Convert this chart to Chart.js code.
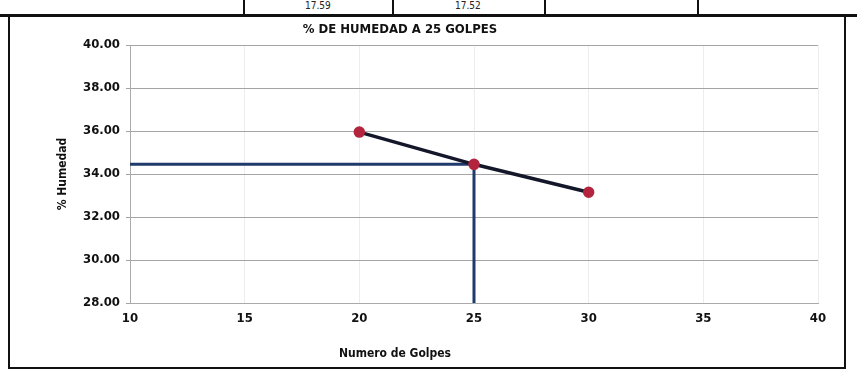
<!DOCTYPE html>
<html>
<head>
<meta charset="utf-8">
<script src="https://cdn.jsdelivr.net/npm/chart.js@4.4.1/dist/chart.umd.min.js"></script>
<style>
  body { margin: 0; background: #fff; width: 857px; height: 383px; position: relative; overflow: hidden; font-family: "DejaVu Sans Condensed", "DejaVu Sans", sans-serif; }
  .tabla { position: absolute; left: 0; top: 0; width: 857px; height: 14px; border-bottom: 3px solid #111; }
  .div { position: absolute; top: 0; height: 14px; border-left: 2px solid #111; }
  .cell { position: absolute; top: 0px; font-size: 10px; color: #222; }
  .marco { position: absolute; left: 8px; top: 15px; width: 838px; height: 354px; box-sizing: border-box; border: 2px solid #111; border-top: none; }
  .marco canvas { display: block; }
  .titulo { position: absolute; top: 21px; left: 250px; width: 300px; text-align: center; font-size: 13px; font-weight: bold; color: #111; }
  .titulo-x { position: absolute; top: 346px; left: 250px; width: 290px; text-align: center; font-size: 12px; font-weight: bold; color: #111; }
</style>
</head>
<body>
<div class="tabla">
  <div class="div" style="left:243px"></div>
  <div class="div" style="left:392px"></div>
  <div class="div" style="left:544px"></div>
  <div class="div" style="left:697px"></div>
  <div class="cell" style="left:305px">17.59</div>
  <div class="cell" style="left:455px">17.52</div>
</div>
<div class="marco"><canvas id="grafico" width="834" height="352"></canvas></div>
<div class="titulo">% DE HUMEDAD A 25 GOLPES</div>
<div class="titulo-x">Numero de Golpes</div>
<script>
// Numero de golpes vs % de humedad (limite liquido)
const golpes = [20, 25, 30]
const humedad = [35.95, 34.45, 33.15]
const golpesRef = 25
const humedadRef = 34.45
const xTicks = [10, 15, 20, 25, 30, 35, 40]
const yTicks = [28, 30, 32, 34, 36, 38, 40]

const puntos = golpes.map((g, i) => ({ x: g, y: humedad[i] }))

const fuenteEje = { family: "'DejaVu Sans Condensed', 'DejaVu Sans', sans-serif", size: 13, weight: 'bold' }

new Chart(document.getElementById("grafico"), {
  type: 'scatter',
  data: {
    datasets: [
      {
        label: "% Humedad",
        data: puntos,
        showLine: true,
        borderColor: "#14172a",
        borderWidth: 3.5,
        pointBackgroundColor: "#b3243e",
        pointBorderColor: "#b3243e",
        pointRadius: 4,
        order: 1
      },
      {
        label: "ref-h",
        data: [{ x: xTicks[0], y: humedadRef }, { x: golpesRef, y: humedadRef }],
        showLine: true,
        borderColor: "#1f3a6b",
        borderWidth: 3,
        pointRadius: 0,
        order: 2
      },
      {
        label: "ref-v",
        data: [{ x: golpesRef, y: humedadRef }, { x: golpesRef, y: yTicks[0] }],
        showLine: true,
        borderColor: "#1f3a6b",
        borderWidth: 3,
        pointRadius: 0,
        order: 2
      }
    ]
  },
  options: {
    responsive: false,
    animation: false,
    layout: { padding: { left: 34, right: 26, top: 30, bottom: 4 } },
    plugins: {
      legend: { display: false },
      tooltip: { enabled: false },
      title: { display: false }
    },
    scales: {
      x: {
        type: 'linear',
        min: xTicks[0],
        max: xTicks[xTicks.length - 1],
        afterBuildTicks: s => { s.ticks = xTicks.map(v => ({ value: v })) },
        afterFit: s => { s.height = 60 },
        ticks: { color: '#111', font: fuenteEje, padding: 8 },
        grid: { color: 'rgba(0,0,0,0.07)', tickLength: 0 },
        border: { color: '#aaa' }
      },
      y: {
        min: yTicks[0],
        max: yTicks[yTicks.length - 1],
        afterBuildTicks: s => { s.ticks = yTicks.map(v => ({ value: v })) },
        afterFit: s => { s.width = 86 },
        ticks: { color: '#111', font: fuenteEje, padding: 6, callback: v => v.toFixed(2) },
        grid: { color: '#a4a4a4', tickLength: 4 },
        border: { color: '#aaa' },
        title: { display: true, text: '% Humedad', color: '#111', font: { family: fuenteEje.family, size: 12, weight: 'bold' }, padding: { top: 12, bottom: 0 } }
      }
    }
  }
})
</script>
</body>
</html>
